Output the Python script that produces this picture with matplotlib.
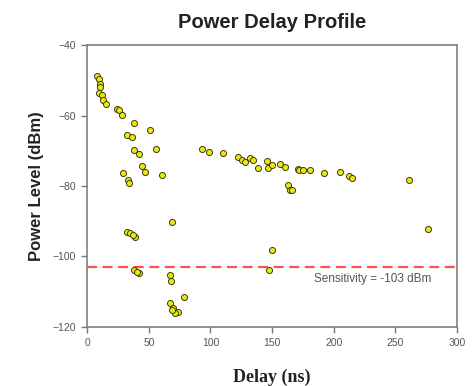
import matplotlib
matplotlib.use("Agg")
import matplotlib.pyplot as plt

# Measured multipath components: excess delay (ns) and received power (dBm)
delay_ns = [
    7.9, 9.2, 10.5, 10.5, 9.7, 11.9, 13.2, 15.2,
    24.0, 25.4, 28.1, 38.1, 51.1, 32.2, 36.7,
    38.1, 42.4, 55.7, 44.3, 47.0, 60.6, 29.4, 32.7, 34.0,
    93.0, 98.9, 110.5, 122.7, 125.4, 128.1, 132.2, 134.9, 138.9,
    145.7, 147.0, 149.7, 156.5, 160.5, 171.4, 163.3, 164.6, 166.0,
    172.1, 175.4, 180.8, 192.2, 205.1, 212.7, 214.6, 261.3,
    32.2, 35.0, 38.9, 37.0, 68.7,
    37.6, 42.4, 40.0, 66.8, 67.9,
    78.7, 66.8, 70.0, 74.0, 71.4, 68.7,
    276.7, 149.7, 147.6,
]
power_dbm = [
    -48.8, -49.5, -50.9, -51.8, -53.7, -54.2, -55.6, -56.8,
    -58.0, -58.4, -59.9, -62.0, -64.1, -65.5, -66.2,
    -69.8, -70.9, -69.6, -74.3, -75.9, -76.9, -76.4, -78.3, -79.2,
    -69.5, -70.3, -70.7, -71.7, -72.6, -73.1, -72.0, -72.6, -75.0,
    -72.9, -75.0, -74.0, -73.8, -74.5, -75.3, -79.7, -81.1, -81.1,
    -75.5, -75.5, -75.5, -76.2, -76.1, -77.2, -77.8, -78.3,
    -93.0, -93.4, -94.4, -93.8, -90.1,
    -103.8, -104.8, -104.3, -105.2, -106.9,
    -111.6, -113.3, -114.7, -115.7, -116.1, -115.2,
    -92.3, -98.2, -103.8,
]

sensitivity_dbm = -103
x_ticks = [0, 50, 100, 150, 200, 250, 300]
y_ticks = [-120, -100, -80, -60, -40]

fig = plt.figure(figsize=(4.74, 3.86), dpi=100)
ax = fig.add_axes([0.184, 0.153, 0.780, 0.730])

ax.scatter(delay_ns, power_dbm, s=19, c="#eaea10", edgecolors="#3c3c0c",
           linewidths=0.7, zorder=3)

ax.axhline(sensitivity_dbm, color="#ff5050", linewidth=1.6,
           dashes=(4.5, 2.5), zorder=2)
ax.text(279, sensitivity_dbm - 3.3, "Sensitivity = -103 dBm",
        ha="right", va="center", fontsize=8.5, color="#555555",
        family="Liberation Sans")

ax.set_xlim(0, 300)
ax.set_ylim(-120, -40)
ax.set_xticks(x_ticks)
ax.set_yticks(y_ticks)
ax.tick_params(direction="out", length=4, width=1, colors="#777777",
               labelcolor="#555555", labelsize=7.5, pad=4)
for lab in ax.get_xticklabels() + ax.get_yticklabels():
    lab.set_family("Liberation Sans")
for sp in ax.spines.values():
    sp.set_color("#808080")
    sp.set_linewidth(1.2)

ax.set_title("Power Delay Profile", fontsize=14.5, fontweight="bold",
             family="Liberation Sans", color="#222222", pad=12)
ax.set_ylabel("Power Level (dBm)", fontsize=12, fontweight="bold",
              family="Liberation Sans", color="#222222", labelpad=6)
ax.set_xlabel("Delay (ns)", fontsize=13, fontweight="bold",
              family="Liberation Serif", color="#222222", labelpad=15)

fig.savefig("out.png", dpi=100)
